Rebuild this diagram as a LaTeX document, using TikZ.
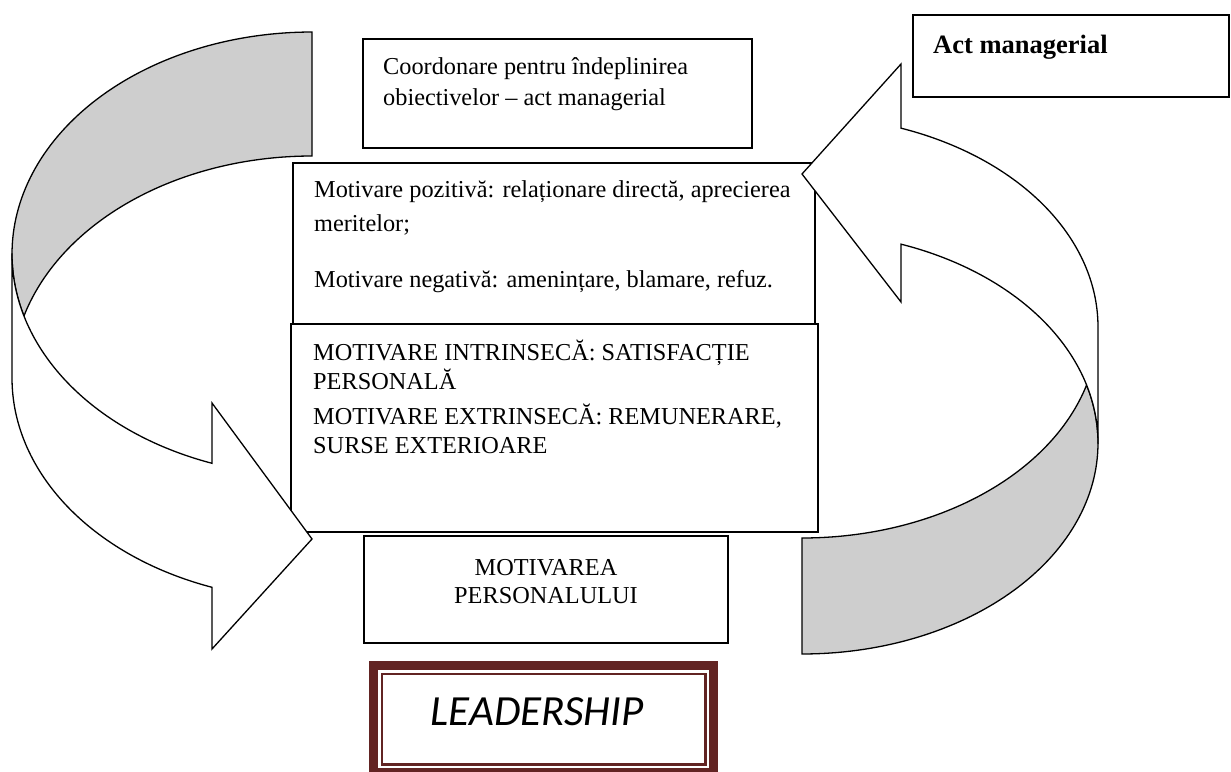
\documentclass[tikz,border=0pt]{standalone}
\usepackage{fontspec}
\setmainfont{Liberation Serif}
\newfontfamily\leadfont{Carlito}
\definecolor{bandgray}{RGB}{206,206,206}
\definecolor{frameRed}{RGB}{98,36,35}
\begin{document}
\begin{tikzpicture}[x=1pt,y=-1pt,line join=miter,
  box/.style={draw,line width=1.3,fill=white,anchor=north west,inner sep=0,outer sep=0},
  txt/.style={anchor=base west,inner sep=0,font=\fontsize{24.3}{24.3}\selectfont},
  ctxt/.style={anchor=base,inner sep=0,font=\fontsize{24.3}{24.3}\selectfont},
  backband/.style={draw,line width=1.3,fill=bandgray},
  arrowbody/.style={draw,line width=1.3,fill=white}]
\useasboundingbox (0,0) rectangle (1231,771);

% text boxes
\node[box,minimum width=389,minimum height=109] (coord) at (363,39) {};
\node[box,minimum width=316,minimum height=82] (act) at (913,15) {};
\node[box,minimum width=522,minimum height=162] (pos) at (293,163) {};
\node[box,minimum width=527,minimum height=208] (intr) at (291,324) {};
\node[box,minimum width=364,minimum height=107] (motp) at (364,536) {};

% leadership frame: thick outer band and thin inner line
\node[anchor=north west,inner sep=0,minimum width=340,minimum height=107] (leadout) at (373.5,665.5) {};
\draw[frameRed,line width=9] (leadout.north west) rectangle (leadout.south east);
\node[anchor=north west,inner sep=0,minimum width=323,minimum height=90] (leadin) at (382,674) {};
\draw[frameRed,line width=2.5] (leadin.north west) rectangle (leadin.south east);

% left curved arrow (pointing right)
\filldraw[backband] plot[domain=270:163.8,samples=80] ({312+300*cos(\x)},{254+222*sin(\x)})
  -- plot[domain=196.2:270,samples=80] ({312+300*cos(\x)},{378+222*sin(\x)}) -- cycle;
\filldraw[arrowbody] (12,254)
  -- plot[domain=180:109.47,samples=80] ({312+300*cos(\x)},{378+222*sin(\x)})
  -- (212,649) -- (312,539) -- (212,403)
  -- plot[domain=109.47:180,samples=80] ({312+300*cos(\x)},{254+222*sin(\x)}) -- cycle;

% right curved arrow (pointing left)
\filldraw[backband] plot[domain=90:-15.96,samples=80] ({802+296*cos(\x)},{443+211*sin(\x)})
  -- plot[domain=15.96:90,samples=80] ({802+296*cos(\x)},{327+211*sin(\x)}) -- cycle;
\filldraw[arrowbody] (1098,443)
  -- plot[domain=0:-70.47,samples=80] ({802+296*cos(\x)},{327+211*sin(\x)})
  -- (901,64) -- (802,174) -- (901,302)
  -- plot[domain=-70.47:0,samples=80] ({802+296*cos(\x)},{443+211*sin(\x)}) -- cycle;

% labels
\node[txt] (c1) at (383,74) {Coordonare pentru îndeplinirea};
\node[txt] (c2) at (383,105) {obiectivelor – act managerial};
\node[txt,font=\fontsize{26.5}{26.5}\selectfont\bfseries] (a1) at (933,53) {Act managerial};
\node[txt] (p1) at (314,197) {Motivare pozitivă: relaționare directă, aprecierea};
\node[txt] (p2) at (314,231) {meritelor;};
\node[txt] (p3) at (314,287) {Motivare negativă: amenințare, blamare, refuz.};
\node[txt] (i1) at (313,360) {MOTIVARE INTRINSECĂ: SATISFACȚIE};
\node[txt] (i2) at (313,389) {PERSONALĂ};
\node[txt] (i3) at (313,424) {MOTIVARE EXTRINSECĂ: REMUNERARE,};
\node[txt] (i4) at (313,453) {SURSE EXTERIOARE};
\node[ctxt] (m1) at (546,575) {MOTIVAREA};
\node[ctxt] (m2) at (546,603) {PERSONALULUI};
\node[anchor=base,inner sep=0,font=\leadfont\itshape\fontsize{43}{43}\selectfont] (lead) at (537,725) {LEADERSHIP};
\end{tikzpicture}
\end{document}
